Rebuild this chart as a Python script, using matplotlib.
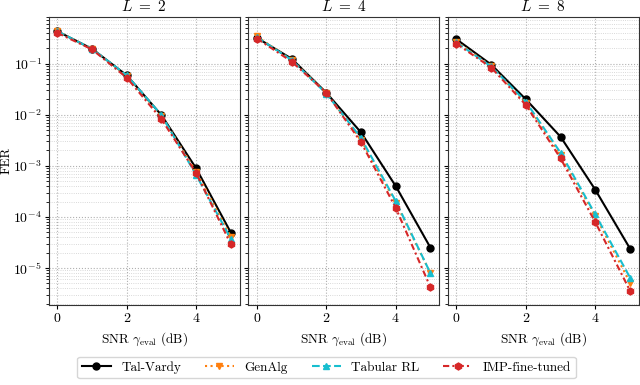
import matplotlib
matplotlib.use("Agg")
import matplotlib.pyplot as plt
import numpy as np

plt.rcParams['font.family'] = 'serif'
plt.rcParams['font.serif'] = ['cmr10']
plt.rcParams['mathtext.fontset'] = 'cm'
plt.rcParams['axes.unicode_minus'] = False
plt.rcParams['axes.formatter.use_mathtext'] = True

snr = [0, 1, 2, 3, 4, 5]
titles = [r"$L\ =\ 2$", r"$L\ =\ 4$", r"$L\ =\ 8$"]

tal_vardy = [
    [0.43, 0.195, 0.059, 0.0098, 0.00089, 4.9e-5],
    [0.32, 0.125, 0.027, 0.0045, 0.00040, 2.5e-5],
    [0.30, 0.096, 0.020, 0.0037, 0.00034, 2.4e-5],
]
genalg = [
    [0.43, 0.195, 0.058, 0.0095, 0.00076, 4.1e-5],
    [0.34, 0.118, 0.027, 0.0032, 0.00019, 7.9e-6],
    [0.27, 0.090, 0.017, 0.0016, 0.000105, 5.2e-6],
]
tabular_rl = [
    [0.43, 0.195, 0.059, 0.0098, 0.00066, 3.7e-5],
    [0.33, 0.118, 0.026, 0.0035, 0.000204, 7.9e-6],
    [0.26, 0.088, 0.018, 0.0018, 0.000112, 6.5e-6],
]
imp_fine_tuned = [
    [0.40, 0.19, 0.053, 0.0082, 0.00072, 2.9e-5],
    [0.31, 0.11, 0.027, 0.0029, 0.00015, 4.2e-6],
    [0.245, 0.084, 0.0155, 0.0014, 7.9e-5, 3.6e-6],
]

fig, axes = plt.subplots(1, 3, figsize=(6.4, 3.85), dpi=100, sharey=True)
fig.subplots_adjust(left=0.076, right=0.998, top=0.956, bottom=0.208, wspace=0.045)

for i, ax in enumerate(axes):
    ax.plot(snr, tal_vardy[i], color='black', ls='-', marker='o', ms=5, lw=1.5, label='Tal-Vardy', zorder=3)
    ax.plot(snr, genalg[i], color='#ff7f0e', ls=':', marker='v', ms=5, lw=1.5, label='GenAlg', zorder=4)
    ax.plot(snr, tabular_rl[i], color='#17becf', ls='--', marker='^', ms=5, lw=1.5, label='Tabular RL', zorder=5)
    ax.plot(snr, imp_fine_tuned[i], color='#d62728', ls=(0, (3, 1.5, 1, 1.5)), marker='h', ms=5, lw=1.5, label='IMP-fine-tuned', zorder=6)
    ax.set_yscale('log')
    ax.set_xlim(-0.25, 5.25)
    ax.set_ylim(1.9e-6, 0.82)
    ax.set_xticks([0, 2, 4])
    ax.grid(True, which='major', ls=':', color='#b0b0b0', lw=0.8)
    ax.grid(True, which='minor', ls=':', color='#cccccc', lw=0.6)
    ax.set_title(titles[i], fontsize=11, pad=4)
    ax.set_xlabel(r'SNR $\gamma_{\rm eval}$ (dB)', fontsize=9.5, labelpad=4)
    ax.tick_params(labelsize=10, pad=2, length=3)
    ax.tick_params(which='minor', length=2)
    for s in ax.spines.values():
        s.set_color('#333333')

axes[0].set_ylabel('FER', fontsize=9.5)
axes[0].yaxis.set_label_coords(-0.19, 0.5)

handles, labels = axes[0].get_legend_handles_labels()
fig.legend(handles, labels, loc='lower center', ncol=4, bbox_to_anchor=(0.51, 0.0),
           fontsize=9.5, frameon=True, handlelength=2.2, columnspacing=1.8,
           borderpad=0.35)

fig.savefig('out.png', dpi=100)
